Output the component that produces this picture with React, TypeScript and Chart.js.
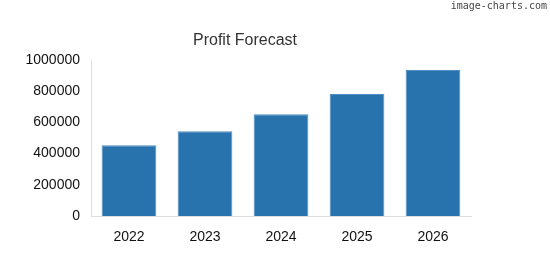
import React, { useEffect, useRef } from "react";
import { Chart, registerables } from "chart.js";

Chart.register(...registerables);

const categories = ["2022", "2023", "2024", "2025", "2026"];
const profitValues = [453000, 543000, 652000, 782000, 936000];
const yTicks = [0, 200000, 400000, 600000, 800000, 1000000];
const titleText = "Profit Forecast";
const watermarkText = "image-charts.com";

const FONT = "'Liberation Sans', Arial, sans-serif";

const overlayPlugin = {
  id: "overlayText",
  afterDraw(chart: any) {
    const ctx = chart.ctx;
    ctx.save();
    ctx.fillStyle = "#333333";
    ctx.font = `16px ${FONT}`;
    ctx.textAlign = "center";
    ctx.textBaseline = "middle";
    ctx.fillText(titleText, 245, 41);
    ctx.fillStyle = "#444444";
    ctx.font = `10px 'DejaVu Sans Mono', monospace`;
    ctx.textAlign = "right";
    ctx.textBaseline = "middle";
    ctx.fillText(watermarkText, 547, 6);
    ctx.restore();
  },
};

export default function App() {
  const ref = useRef<HTMLCanvasElement>(null);
  useEffect(() => {
    if (!ref.current) return;
    const chart = new Chart(ref.current, {
      type: "bar",
      data: {
        labels: categories,
        datasets: [
          {
            data: profitValues,
            backgroundColor: "#2872ae",
            borderColor: "#4f8fc4",
            borderWidth: 1,
            barPercentage: 0.72,
            categoryPercentage: 1,
          },
        ],
      },
      plugins: [overlayPlugin],
      options: {
        animation: false,
        responsive: false,
        maintainAspectRatio: false,
        layout: { padding: { top: 60, right: 79, left: 0, bottom: 0 } },
        plugins: {
          legend: { display: false },
          title: { display: false },
          tooltip: { enabled: false },
        },
        scales: {
          x: {
            grid: { display: false, drawTicks: false },
            border: { display: true, color: "#dddddd", width: 1 },
            ticks: { color: "#111111", font: { family: FONT, size: 14 }, padding: 13 },
            afterFit: (s: any) => { s.height = 59; },
          },
          y: {
            min: 0,
            max: 1000000,
            afterBuildTicks: (s: any) => { s.ticks = yTicks.map((v) => ({ value: v })); },
            grid: { display: false, drawTicks: false },
            border: { display: true, color: "#dddddd", width: 1 },
            ticks: {
              color: "#111111",
              font: { family: FONT, size: 14 },
              padding: 11,
              callback: (v: any) => String(v),
            },
            afterFit: (s: any) => { s.width = 91; },
          },
        },
      },
    });
    return () => chart.destroy();
  }, []);
  return (
    <div style={{ position: "fixed", left: 0, top: 0, width: 550, height: 275, background: "#fff" }}>
      <canvas ref={ref} width={550} height={275} style={{ width: 550, height: 275 }} />
    </div>
  );
}
